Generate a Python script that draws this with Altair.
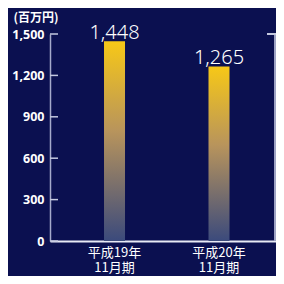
import altair as alt
import pandas as pd

categories = ["平成19年11月期", "平成20年11月期"]
label_line1 = ["平成19年", "平成20年"]
label_line2 = ["11月期", "11月期"]
values = [1448, 1265]
value_labels = ["1,448", "1,265"]
y_ticks = [0, 300, 600, 900, 1200, 1500]

df = pd.DataFrame({"cat": categories, "val": values, "lab": value_labels,
                   "l1": label_line1, "l2": label_line2})
ticks_df = pd.DataFrame({"t": y_ticks})

W, H = 226, 207

xscale = alt.Scale(paddingInner=0.809, paddingOuter=0.486, align=0.537)
yscale = alt.Scale(domain=[0, 1500], nice=False)

grad = alt.Gradient(
    gradient="linear",
    stops=[
        alt.GradientStop(color="#f7c817", offset=0),
        alt.GradientStop(color="#b8945c", offset=0.45),
        alt.GradientStop(color="#3b4a7c", offset=1),
    ],
    x1=0, x2=0, y1=0, y2=1,
)

bars = alt.Chart(df).mark_bar(color=grad, size=21).encode(
    x=alt.X("cat:N", sort=None, scale=xscale,
            axis=alt.Axis(title=None, labels=False, ticks=False,
                          domainColor="#e8eaf5", domainWidth=2)),
    y=alt.Y("val:Q", scale=yscale,
            axis=alt.Axis(values=y_ticks, format=",d", ticks=False, grid=False,
                          labelColor="white", labelFont="Noto Sans",
                          labelFontWeight="bold", labelFontSize=12.5,
                          labelPadding=6, domainColor="#a6aacb", domainWidth=1.5,
                          title="(百万円)", titleAngle=0, titleAlign="left",
                          titleBaseline="alphabetic", titleX=-37, titleY=-13,
                          titleColor="white", titleFont="Noto Sans CJK JP",
                          titleFontSize=12, titleFontWeight="bold")),
)

text = alt.Chart(df).mark_text(color="white", font="Noto Sans", fontSize=20,
                               fontWeight=300, baseline="alphabetic", dy=-2).encode(
    x=alt.X("cat:N", sort=None, scale=xscale),
    y=alt.Y("val:Q", scale=yscale),
    text="lab:N",
)

cat_text_1 = alt.Chart(df).mark_text(color="white", font="Noto Sans CJK JP",
                                     fontSize=13, baseline="alphabetic").encode(
    x=alt.X("cat:N", sort=None, scale=xscale),
    y=alt.value(H + 16),
    text="l1:N",
)
cat_text_2 = alt.Chart(df).mark_text(color="white", font="Noto Sans CJK JP",
                                     fontSize=13, baseline="alphabetic").encode(
    x=alt.X("cat:N", sort=None, scale=xscale),
    y=alt.value(H + 31),
    text="l2:N",
)

tick_rules = alt.Chart(ticks_df).mark_rule(color="#c4c8df", strokeWidth=1.5).encode(
    y=alt.Y("t:Q", scale=yscale),
    x=alt.value(0),
    x2=alt.value(8),
)

right_axis = alt.Chart(ticks_df).mark_rule(color="#9ea3c4", strokeWidth=2).encode(
    x=alt.value(W - 1),
    y=alt.value(0),
    y2=alt.value(H),
)
right_tick = alt.Chart(ticks_df).mark_rule(color="#c4c8df", strokeWidth=1.5).encode(
    x=alt.value(W - 9),
    x2=alt.value(W),
    y=alt.value(0),
)

chart = alt.layer(bars, text, cat_text_1, cat_text_2, tick_rules, right_axis,
                  right_tick).properties(
    width=W, height=H,
    autosize=alt.AutoSizeParams(type="none"),
    padding={"left": 42, "top": 26, "right": 0, "bottom": 35},
    background="#0b1050",
).configure_view(stroke=None)

chart.save("out.html", embed_options={"renderer": "svg", "actions": False})
